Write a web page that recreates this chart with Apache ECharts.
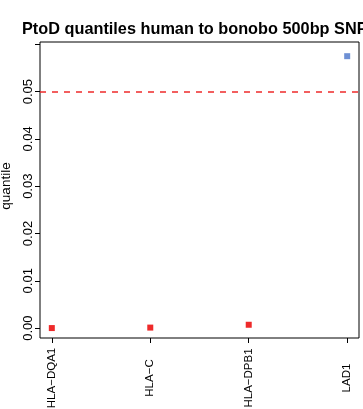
<!DOCTYPE html>
<html>
<head>
<meta charset="utf-8">
<script src="https://cdn.jsdelivr.net/npm/echarts@6/dist/echarts.min.js"></script>
<style>html,body{margin:0;padding:0;background:#fff;}#c{width:363px;height:409px;}</style>
</head>
<body>
<div id="c"></div>
<script>
const titleText = 'PtoD quantiles human to bonobo 500bp SNP';
const genes = ['HLA\u2212DQA1', 'HLA\u2212C', 'HLA\u2212DPB1', 'LAD1'];
const quantiles = [0.0000, 0.0001, 0.0007, 0.0575];
const threshold = 0.05;
const yTicks = [0, 0.01, 0.02, 0.03, 0.04, 0.05, 0.06];
const yLabels = [0, 0.01, 0.02, 0.03, 0.04, 0.05];
const xTicks = [1, 2, 3, 4];

const RED = '#EE2A2A', BLUE = '#6E90D4';
const FONT = 'Liberation Sans, Arial, sans-serif';

const chart = echarts.init(document.getElementById('c'), null, {renderer: 'canvas'});
chart.setOption({
  animation: false,
  backgroundColor: '#fff',
  title: {
    text: titleText, left: 22, top: 22, padding: 0,
    textStyle: {fontFamily: FONT, fontWeight: 'bold', fontSize: 16.3, color: '#000'}
  },
  grid: {left: 40, top: 42, right: 4, bottom: 71, show: true, borderColor: '#000', borderWidth: 1,
         backgroundColor: 'transparent', containLabel: false, outerBoundsMode: 'none'},
  xAxis: {
    type: 'value', min: 0.88, max: 4.12,
    axisLine: {show: false, onZero: false},
    splitLine: {show: false},
    axisTick: {show: true, length: 5, lineStyle: {color: '#000'}, customValues: xTicks},
    axisLabel: {
      customValues: xTicks, rotate: 90, align: 'center', verticalAlign: 'middle', margin: 40,
      fontFamily: FONT, fontSize: 11.5, color: '#000',
      formatter: v => genes[Math.round(v) - 1] || ''
    }
  },
  yAxis: {
    type: 'value', min: -0.0021, max: 0.0605,
    name: 'quantile', nameLocation: 'middle', nameGap: 22, nameRotate: 90,
    nameTextStyle: {fontFamily: FONT, fontSize: 13.5, color: '#000', padding: [0, 0, 0, 8]},
    axisLine: {show: false, onZero: false},
    splitLine: {show: false},
    axisTick: {show: true, length: 5, lineStyle: {color: '#000'}, customValues: yTicks},
    axisLabel: {
      customValues: yLabels, rotate: 90, align: 'center', verticalAlign: 'middle', margin: 12,
      fontFamily: FONT, fontSize: 13, color: '#000',
      formatter: v => v.toFixed(2)
    }
  },
  series: [{
    type: 'scatter',
    symbol: 'rect', symbolSize: 6,
    data: quantiles.map((q, i) => ({value: [i + 1, q], itemStyle: {color: q > threshold ? BLUE : RED, opacity: 1}})),
    markLine: {
      silent: true, symbol: 'none', label: {show: false},
      lineStyle: {color: RED, type: [6, 6], width: 1.5},
      data: [{yAxis: threshold}]
    }
  }]
});
</script>
</body>
</html>
